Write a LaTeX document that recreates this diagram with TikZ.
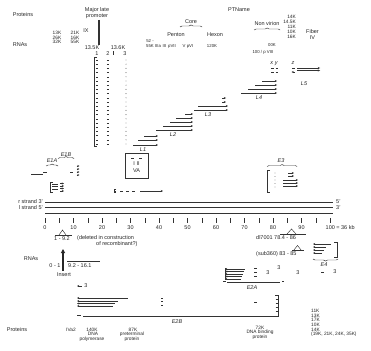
\documentclass[tikz,border=0pt]{standalone}
\usepackage{fontspec}
\setmainfont{Liberation Sans}
\usetikzlibrary{arrows.meta,decorations.pathreplacing}
\begin{document}
\begin{tikzpicture}[x=1pt,y=-1pt,
  txt/.style={inner sep=0pt,font=\fontsize{5.5}{6}\selectfont,text=black!85},
  stk/.style={inner sep=0pt,font=\fontsize{4.8}{5}\selectfont,text=black!85},
  sml/.style={inner sep=0pt,font=\fontsize{4.3}{4.8}\selectfont,text=black!85},
  lbl/.style={inner sep=0pt,font=\fontsize{5.5}{6}\selectfont\itshape,text=black!85},
  ln/.style={line width=0.45pt,black!80},
  ar/.style={ln,-{Stealth[length=2.2pt,width=2pt]}},
  al/.style={ln,{Stealth[length=2.2pt,width=2pt]}-},
  brc/.style={ln,decorate,decoration={brace,amplitude=2pt}},
  brcm/.style={ln,decorate,decoration={brace,amplitude=2pt,mirror}}]
\fill[white] (0,0) rectangle (371,350);
\useasboundingbox (0,0) rectangle (371,350);
% ---------- top header ----------
\node[txt] (proteins1) at (23,15) {Proteins};
\node[txt] (mlp1) at (97,10) {Major late};
\node[txt] (mlp2) at (97,16) {promoter};
\draw[line width=1.1pt,black!80] (99,20) -- (99,45);
\node[txt] (ix) at (86,31) {IX};
\node[stk] (p13) at (57,33) {13K};
\node[stk] (p21) at (75,33) {21K};
\node[stk] (p26) at (57,37.6) {26K};
\node[stk] (p16) at (75,37.6) {16K};
\node[stk] (p32) at (57,42.2) {32K};
\node[stk] (p55) at (75,42.2) {55K};
\node[txt] (rnas1) at (20,45) {RNAs};
\node[txt] (k135) at (92,48) {13.5K};
\node[txt] (k136) at (118,48) {13.6K};
\node[txt] (n1) at (97,53.5) {1};
\node[txt] (n2) at (108,53.5) {2};
\draw[ln] (113,51.5) -- (113,55.5);
\node[txt] (n3) at (125,53.5) {3};
\draw[ln] (97,57.5) -- (94,57.5) -- (94,146) -- (97,146);
\foreach \yy in {60,64.2,...,146} {
  \draw[ln] (95.8,\yy) -- (98.4,\yy);
  \draw[ln] (106.8,\yy) -- (109.4,\yy);
  \fill[black!80] (126,\yy) circle (0.45);
}
% structural proteins
\node[txt] (ptname) at (239,10) {PTName};
\node[txt] (core) at (191,21.5) {Core};
\draw[brc] (180,27) -- (202,27);
\node[txt] (penton) at (176,35) {Penton};
\node[txt] (hexon) at (215,35) {Hexon};
\node[sml] (p52) at (150,41.5) {52 -};
\node[sml] (s55) at (150,46.5) {55K};
\node[sml] (s3a) at (158,46.5) {IIIa};
\node[sml] (s3) at (164.5,46.5) {III};
\node[sml] (s7) at (172,46.5) {pVII};
\node[sml] (s5) at (184,46.5) {V};
\node[sml] (s6) at (190,46.5) {pVI};
\node[sml] (s120) at (212,46.5) {120K};
\node[txt] (nonv) at (267,24) {Non virion};
\draw[brc] (254,30) -- (280,30);
\node[sml] (k00) at (272,45) {00K};
\node[sml] (p100) at (263,52) {100 / p VIII};
\node[stk,anchor=east] (r14) at (296,17) {14K};
\node[stk,anchor=east] (r145) at (296,22) {14.5K};
\node[stk,anchor=east] (r11) at (296,27) {11K};
\node[stk,anchor=east] (r10) at (296,32) {10K};
\node[stk,anchor=east] (r16) at (296,37) {16K};
\node[txt] (fiber) at (312.5,32) {Fiber};
\node[txt] (iv) at (312.5,37.5) {IV};
% ---------- late transcripts ----------
\node[lbl] (xy) at (274,63.5) {x y};
\node[lbl] (zz) at (293,63.5) {z};
\draw[ln] (271,68.5) -- (273.5,68.5) (275.5,68.5) -- (278,68.5);
\draw[ln] (271,72) -- (273.5,72) (275.5,72) -- (278,72);
\draw[ln] (292,68.5) -- (294.5,68.5);
\draw[al] (291.5,72) -- (295,72);
\draw[ar] (297,68) -- (320,68);
\draw[ar] (297,70.5) -- (320,70.5);
\node[lbl] (l5) at (304,84) {L5};
\draw[ar] (262,81) -- (277,81);
\draw[ar] (255,85) -- (277,85);
\draw[ar] (248,89) -- (277,89);
\draw[ar] (241,93) -- (277,93);
\node[lbl] (l4) at (259,98) {L4};
\draw[ar] (222,98) -- (226,98);
\draw[ar] (222,102) -- (226,102);
\draw[ar] (198,106) -- (228,106);
\draw[ar] (194,110) -- (228,110);
\node[lbl] (l3) at (208,115) {L3};
\draw[ar] (185,114) -- (193,114);
\draw[ar] (176,118) -- (193,118);
\draw[ar] (170,122) -- (193,122);
\draw[ar] (163,126) -- (193,126);
\draw[ar] (156,130) -- (193,130);
\node[lbl] (l2) at (173,134.5) {L2};
\draw[ar] (144,136) -- (158,136);
\draw[ar] (138,140) -- (158,140);
\draw[ar] (133,145) -- (158,145);
\node[lbl] (l1) at (143,149.5) {L1};
% VA box
\draw[ln] (125,153) rectangle (148,178);
\draw[ln] (131,158) -- (134,158) (139,158) -- (142,158);
\node[txt] (va1) at (136.5,164) {I\,\,II};
\node[txt] (va2) at (136.5,171) {VA};
% dashed arrow
\draw[ln] (116,189.5) -- (114,189.5) -- (114,192.5) -- (116,192.5) (114,191) -- (116,191);
\draw[ln,dash pattern=on 3pt off 3pt] (120,191) -- (137,191);
\draw[ar] (140,191) -- (163,191);
% E1
\node[lbl] (e1a) at (52,160.5) {E1A};
\draw[brc] (46,166) -- (58,166);
\node[lbl] (e1b) at (66,155) {E1B};
\draw[brc] (58,158.5) -- (74,158.5);
\draw[ln] (31,174) -- (43,174) (43,172) -- (47,172);
\draw[ln] (70,172) -- (73,172);
\foreach \yy in {166,169,172,175} \draw[ar] (76.5,\yy) -- (79.5,\yy);
\draw[ln] (53,182) -- (50,182) -- (50,192) -- (53,192);
\foreach \yy in {184,186.5,189} \draw[ln] (52,\yy) -- (58,\yy);
\foreach \yy in {183.5,186,188.5,191} \draw[ar] (60,\yy) -- (64,\yy);
% E3
\node[lbl] (e3) at (281,161) {E3};
\draw[brc] (267,166.5) -- (297,166.5);
\draw[ln] (270,170) -- (267,170) -- (267,192) -- (270,192);
\foreach \yy in {173,176.5,...,190} \fill[black!80] (275,\yy) circle (0.45);
\draw[ar] (288,173) -- (294,173);
\draw[ar] (288,176) -- (294,176);
\draw[ar] (283,180) -- (298,180);
\draw[ar] (283,183) -- (298,183);
\draw[ar] (283,186) -- (298,186);
% ---------- genome axis ----------
\node[txt,anchor=east] (rs) at (43,202) {r strand 3'};
\node[txt,anchor=east] (ls) at (43,207.5) {l strand 5'};
\draw[ln] (45,202) -- (333,202);
\draw[ln] (45,207) -- (333,207);
\draw[ln] (45,213) -- (333,213);
\node[txt,anchor=west] (e5) at (336,202) {5'};
\node[txt,anchor=west] (e3p) at (336,207.5) {3'};
\foreach \u in {0,5,...,100} \draw[ln] ({45+2.85*\u},218) -- ({45+2.85*\u},223);
\foreach \u in {0,10,...,90} \node[txt] (ax\u) at ({45+2.85*\u},227.5) {\u};
\node[txt,anchor=west] (ax100) at (325.5,227.5) {100 = 36 kb};
% deletions
\draw[ln] (55,235) -- (72,235);
\draw[ln] (59,235) -- (62.5,230) -- (66,235);
\node[txt] (del1) at (62,238.5) {1 - 9.2};
\node[txt,anchor=west] (delt1) at (77,238.5) {(deleted in construction};
\node[txt,anchor=west] (delt2) at (96,244) {of recombinant?)};
\draw[ln] (280,234) -- (306,234);
\draw[ln] (287,234) -- (291.5,229) -- (296,234);
\node[txt,anchor=west] (dl) at (256,237.5) {dl7001 78.4 - 86};
\draw[ln] (292,250.5) -- (304,250.5);
\draw[ln] (293.5,250.5) -- (297.5,245.5) -- (301.5,250.5);
\node[txt,anchor=west] (sub) at (256,254.5) {(sub360) 83 - 85};
% ---------- early region RNAs ----------
\node[txt] (rnas2) at (31,259) {RNAs};
\node[txt] (z01) at (55,265.5) {0 - 1};
\draw[ln] (67,261) -- (100,261);
\node[txt,anchor=west] (z92) at (68,265.5) {9.2 - 16.1};
\draw[line width=1.3pt,black!85,-{Triangle[length=4pt,width=4pt]}] (63,271) -- (63,249);
\node[txt] (insert) at (64,275) {Insert};
\draw[al] (77,286) -- (82,286);
\node[txt] (r3a) at (86,286) {3};
% E2B
\draw[al] (77,298) -- (128,298);
\draw[al] (77,301) -- (118,301);
\draw[al] (77,303.5) -- (115,303.5);
\draw[al] (77,306) -- (113,306);
\foreach \yy in {298,301.5,305} \draw[ln] (161,\yy) -- (163,\yy);
\draw[ln] (77,315.5) -- (81,315.5);
\draw[ln] (83,316) -- (278,316) -- (278,295) -- (275,295);
\foreach \yy in {299,303,307,311} \draw[ln] (275.5,\yy) -- (277.5,\yy);
\draw[ln] (254,302) -- (257,302);
\node[lbl] (e2b) at (177,322) {E2B};
% E2A
\draw[ln] (225,268) -- (225,280);
\draw[al] (225,269) -- (245,269);
\draw[al] (225,271.5) -- (244,271.5);
\draw[al] (225,274) -- (243,274);
\draw[al] (225,276.5) -- (242,276.5);
\draw[al] (225,279) -- (241,279);
\foreach \yy in {268.5,272.5,276.5} \draw[ln] (254,\yy) -- (256.5,\yy);
\node[txt] (r3b) at (268,273) {3};
\node[txt] (r3c) at (279,268) {3};
\node[txt] (r3d) at (298,273) {3};
\draw[ln] (223,281.5) -- (225.5,281.5);
\draw[ln] (227,282) -- (280,282);
\draw[ln] (282,281) -- (283.5,281);
\node[lbl] (e2a) at (252,288) {E2A};
% E4
\draw[ln] (334,242) -- (337,242) -- (337,257) -- (334,257);
\draw[al] (313,244) -- (331,244);
\draw[al] (313,247) -- (326,247);
\draw[al] (313,250) -- (324,250);
\draw[al] (313,253) -- (322,253);
\draw[brcm] (313,259) -- (338,259);
\node[lbl] (e4) at (324,265) {E4};
\draw[ln] (321,272) -- (324,272);
\node[txt] (r3e) at (335,272) {3};
% ---------- bottom proteins ----------
\node[txt] (proteins2) at (17,329.5) {Proteins};
\node[stk] (iva2) at (71,329.5) {IVa2};
\node[stk] (k140) at (92,329.5) {140K};
\node[stk] (dna1) at (93,334) {DNA};
\node[stk] (poly) at (92,338.8) {polymerase};
\node[stk] (k87) at (133,329.5) {87K};
\node[stk] (pret) at (132,334) {preterminal};
\node[stk] (prot1) at (132,338.8) {protein};
\node[stk] (k72) at (260,327.5) {72K};
\node[stk] (dnab) at (260,332) {DNA binding};
\node[stk] (prot2) at (260,336.8) {protein};
\node[stk,anchor=west] (b11) at (311,311) {11K};
\node[stk,anchor=west] (b13) at (311,315.6) {13K};
\node[stk,anchor=west] (b17) at (311,320.2) {17K};
\node[stk,anchor=west] (b10) at (311,324.8) {10K};
\node[stk,anchor=west] (b14) at (311,329.4) {14K};
\node[stk,anchor=west] (b19) at (311,334.4) {(19K, 21K, 24K, 35K)};
\end{tikzpicture}
\end{document}
